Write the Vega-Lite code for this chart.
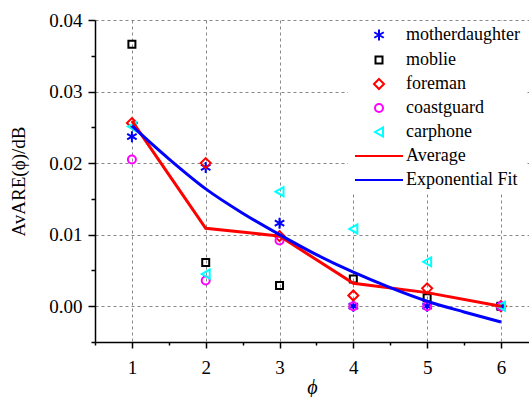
{
  "$schema": "https://vega.github.io/schema/vega-lite/v6.json",
  "width": 434,
  "height": 322,
  "autosize": {"type": "none"},
  "padding": {"left": 95, "top": 20, "right": 0, "bottom": 55},
  "config": {
    "font": "Liberation Serif",
    "view": {"stroke": null},
    "axis": {
      "domainColor": "#000",
      "domainWidth": 1.5,
      "tickColor": "#000",
      "tickWidth": 1.5,
      "labelColor": "#000",
      "titleColor": "#000",
      "labelFont": "Liberation Serif",
      "titleFont": "Liberation Serif",
      "labelFontSize": 19,
      "titleFontWeight": "normal",
      "labelOverlap": false,
      "gridColor": "#888",
      "gridDash": [3, 3],
      "gridWidth": 1
    }
  },
  "datasets": {
    "points": [
      {"x": 1, "series": "motherdaughter", "y": 0.0237},
      {"x": 2, "series": "motherdaughter", "y": 0.0194},
      {"x": 3, "series": "motherdaughter", "y": 0.0116},
      {"x": 4, "series": "motherdaughter", "y": 0.0},
      {"x": 5, "series": "motherdaughter", "y": 0.0},
      {"x": 6, "series": "motherdaughter", "y": 0.0},
      {"x": 1, "series": "moblie", "y": 0.0366},
      {"x": 2, "series": "moblie", "y": 0.0061},
      {"x": 3, "series": "moblie", "y": 0.0029},
      {"x": 4, "series": "moblie", "y": 0.0038},
      {"x": 5, "series": "moblie", "y": 0.0012},
      {"x": 6, "series": "moblie", "y": 0.0},
      {"x": 1, "series": "foreman", "y": 0.0256},
      {"x": 2, "series": "foreman", "y": 0.0200},
      {"x": 3, "series": "foreman", "y": 0.0098},
      {"x": 4, "series": "foreman", "y": 0.0015},
      {"x": 5, "series": "foreman", "y": 0.0025},
      {"x": 6, "series": "foreman", "y": 0.0},
      {"x": 1, "series": "coastguard", "y": 0.0205},
      {"x": 2, "series": "coastguard", "y": 0.0036},
      {"x": 3, "series": "coastguard", "y": 0.0092},
      {"x": 4, "series": "coastguard", "y": 0.0},
      {"x": 5, "series": "coastguard", "y": 0.0},
      {"x": 6, "series": "coastguard", "y": 0.0},
      {"x": 1, "series": "carphone", "y": 0.0251},
      {"x": 2, "series": "carphone", "y": 0.0045},
      {"x": 3, "series": "carphone", "y": 0.0160},
      {"x": 4, "series": "carphone", "y": 0.0108},
      {"x": 5, "series": "carphone", "y": 0.0062},
      {"x": 6, "series": "carphone", "y": 0.0}
    ],
    "average": [
      {"x": 1, "series": "Average", "y": 0.0259},
      {"x": 2, "series": "Average", "y": 0.0109},
      {"x": 3, "series": "Average", "y": 0.0098},
      {"x": 4, "series": "Average", "y": 0.0032},
      {"x": 5, "series": "Average", "y": 0.0019},
      {"x": 6, "series": "Average", "y": 0.0}
    ],
    "fit": [
      {"x": 1, "series": "Exponential Fit", "y": 0.0252},
      {"x": 1.5, "series": "Exponential Fit", "y": 0.0206},
      {"x": 2, "series": "Exponential Fit", "y": 0.0164},
      {"x": 2.5, "series": "Exponential Fit", "y": 0.0130},
      {"x": 3, "series": "Exponential Fit", "y": 0.0100},
      {"x": 3.5, "series": "Exponential Fit", "y": 0.0072},
      {"x": 4, "series": "Exponential Fit", "y": 0.00475},
      {"x": 4.5, "series": "Exponential Fit", "y": 0.0026},
      {"x": 5, "series": "Exponential Fit", "y": 0.0007},
      {"x": 5.5, "series": "Exponential Fit", "y": -0.0008},
      {"x": 6, "series": "Exponential Fit", "y": -0.0022}
    ]
  },
  "encoding": {
    "x": {
      "field": "x",
      "type": "quantitative",
      "scale": {"domain": [0.5, 6.38], "nice": false, "zero": false},
      "axis": {
        "title": "ϕ",
        "titleFont": "Liberation Serif",
        "titleFontSize": 20,
        "titleFontStyle": "italic",
        "titlePadding": 0,
        "values": [0.5, 1, 1.5, 2, 2.5, 3, 3.5, 4, 4.5, 5, 5.5, 6],
        "labelFont": "Liberation Serif",
        "labelExpr": "datum.value % 1 === 0 ? format(datum.value, 'd') : ''",
        "labelPadding": 10,
        "tickSize": {"condition": {"test": "datum.value % 1 === 0", "value": 6}, "value": 3},
        "grid": true,
        "gridOpacity": {"condition": {"test": "datum.value % 1 === 0", "value": 1}, "value": 0}
      }
    },
    "y": {
      "field": "y",
      "type": "quantitative",
      "scale": {"domain": [-0.005, 0.04], "nice": false, "zero": false},
      "axis": {
        "title": "AvARE(ϕ)/dB",
        "titleFont": "Liberation Serif",
        "titleFontSize": 19,
        "titlePadding": 20,
        "values": [-0.005, 0, 0.005, 0.01, 0.015, 0.02, 0.025, 0.03, 0.035, 0.04],
        "labelFont": "Liberation Serif",
        "labelExpr": "abs(datum.value * 100 - round(datum.value * 100)) < 0.01 ? format(datum.value, '.2f') : ''",
        "labelPadding": 6,
        "tickSize": {"condition": {"test": "abs(datum.value * 100 - round(datum.value * 100)) < 0.01", "value": 7}, "value": 4},
        "grid": true,
        "gridOpacity": {"condition": {"test": "abs(datum.value * 100 - round(datum.value * 100)) < 0.01", "value": 1}, "value": 0}
      }
    }
  },
  "layer": [
    {
      "data": {"name": "points"},
      "mark": {"type": "point", "filled": false, "strokeWidth": 2, "size": 100, "opacity": 1},
      "encoding": {
        "color": {
          "field": "series",
          "type": "nominal",
          "sort": null,
          "scale": {
            "domain": ["motherdaughter", "moblie", "foreman", "coastguard", "carphone", "Average", "Exponential Fit"],
            "range": ["#0000ff", "#000000", "#ff0000", "#ff00ff", "#00ffff", "#ff0000", "#0000ff"]
          },
          "legend": {
            "orient": "none",
            "legendX": 253,
            "legendY": 1,
            "title": null,
            "fillColor": "#ffffff",
            "padding": 5,
            "symbolOffset": 17,
            "labelOffset": 18,
            "rowPadding": 6,
            "labelFontSize": 18,
            "labelFont": "Liberation Serif",
            "labelColor": "#000",
            "symbolSize": 100,
            "symbolStrokeWidth": 2,
            "symbolFillColor": "transparent",
            "labelLimit": 300,
            "encode": {
              "symbols": {
                "update": {
                  "strokeWidth": {"signal": "indexof(['Average','Exponential Fit'], datum.value) >= 0 ? 3 : 2"},
                  "fill": {"value": "transparent"}
                }
              }
            }
          }
        },
        "shape": {
          "field": "series",
          "type": "nominal",
          "sort": null,
          "scale": {
            "domain": ["motherdaughter", "moblie", "foreman", "coastguard", "carphone", "Average", "Exponential Fit"],
            "range": [
              "M0,-1.1V1.1M-0.95,-0.55L0.95,0.55M-0.95,0.55L0.95,-0.55",
              "M-0.7,-0.7H0.7V0.7H-0.7Z",
              "M0,-1L1,0L0,1L-1,0Z",
              "M0.8,0A0.8,0.8,0,1,1,-0.8,0A0.8,0.8,0,1,1,0.8,0Z",
              "M-0.8,0L0.8,-0.9L0.8,0.9Z",
              "M-4.8,0H4.8",
              "M-4.8,0H4.8"
            ]
          }
        }
      }
    },
    {
      "data": {"name": "average"},
      "mark": {"type": "line", "strokeWidth": 3},
      "encoding": {
        "color": {"field": "series", "type": "nominal", "sort": null}
      }
    },
    {
      "data": {"name": "fit"},
      "mark": {"type": "line", "strokeWidth": 3, "interpolate": "monotone"},
      "encoding": {
        "color": {"field": "series", "type": "nominal", "sort": null}
      }
    }
  ]
}
